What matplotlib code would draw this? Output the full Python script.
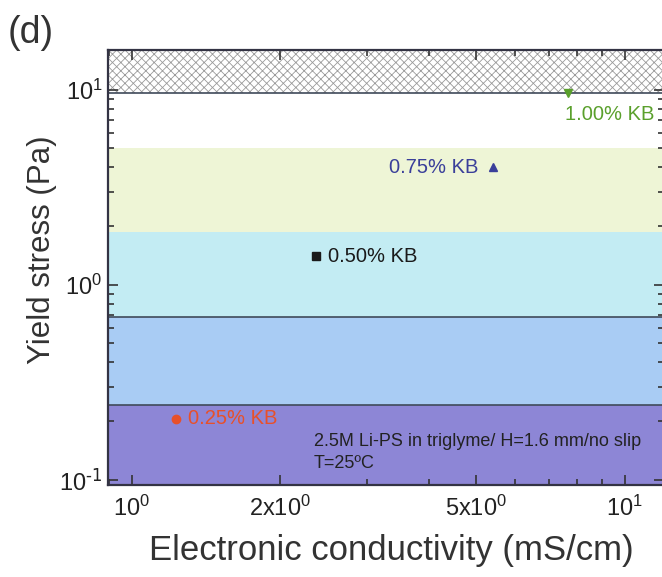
import matplotlib.pyplot as plt
from matplotlib.ticker import FixedLocator, FixedFormatter, LogLocator, NullFormatter

plt.rcParams['font.family'] = ['Liberation Sans', 'DejaVu Sans']
plt.rcParams['mathtext.default'] = 'regular'
plt.rcParams['axes.unicode_minus'] = False
plt.rcParams['hatch.color'] = '#9a9a9a'
plt.rcParams['hatch.linewidth'] = 0.6

# data
conductivity = [1.23, 2.37, 5.40, 7.66]
yield_stress = [0.205, 1.40, 4.0, 9.6]
kb_labels = ['0.25% KB', '0.50% KB', '0.75% KB', '1.00% KB']
kb_colors = ['#e8502a', '#1a1a1a', '#3a3f9a', '#5aa02c']
kb_markers = ['o', 's', '^', 'v']

band_edges = [0.09, 0.243, 0.68, 1.87, 5.0, 9.6]
band_colors = ['#8d86d6', '#a9ccf4', '#c3ecf3', '#eef5d6', '#ffffff']
line_levels = [0.243, 0.68, 9.6]

x_ticks = [1, 2, 5, 10]
x_ticklabels = ['$10^{0}$', '$2x10^{0}$', '$5x10^{0}$', '$10^{1}$']
y_ticks = [0.1, 1, 10]
y_ticklabels = ['$10^{\\text{-1}}$', '$10^{0}$', '$10^{1}$']

fig = plt.figure(figsize=(6.62, 5.77), dpi=100)
ax = fig.add_axes([108 / 662, 1 - 485 / 577, 556 / 662, 435 / 577])

ax.set_xscale('log')
ax.set_yscale('log')
ax.set_xlim(0.896, 12.0)
ax.set_ylim(0.094, 16)

for i in range(len(band_colors)):
    ax.axhspan(band_edges[i], band_edges[i + 1], color=band_colors[i], lw=0, zorder=0)
ax.axhspan(band_edges[-1], 16, facecolor='white', edgecolor='#9a9a9a', hatch='xxxx', lw=0, zorder=0)
for lv in line_levels:
    ax.axhline(lv, color='#404a5a', lw=1.2, zorder=1)

for x, y, c, m in zip(conductivity, yield_stress, kb_colors, kb_markers):
    ax.plot(x, y, marker=m, color=c, ms=6, ls='none', zorder=3)

ax.text(1.30, 0.205, kb_labels[0], color=kb_colors[0], fontsize=14.5, va='center', ha='left')
ax.text(2.50, 1.40, kb_labels[1], color=kb_colors[1], fontsize=14.5, va='center', ha='left')
ax.text(5.05, 4.0, kb_labels[2], color=kb_colors[2], fontsize=14.5, va='center', ha='right')
ax.text(7.55, 7.5, kb_labels[3], color=kb_colors[3], fontsize=14.5, va='center', ha='left')

ax.text(2.34, 0.157, '2.5M Li-PS in triglyme/ H=1.6 mm/no slip', fontsize=13, color='#222222', va='center')
ax.text(2.34, 0.121, 'T=25\u00baC', fontsize=13, color='#222222', va='center')

ax.xaxis.set_major_locator(FixedLocator(x_ticks))
ax.xaxis.set_major_formatter(FixedFormatter(x_ticklabels))
ax.xaxis.set_minor_locator(LogLocator(base=10, subs=[3, 4, 6, 7, 8, 9]))
ax.xaxis.set_minor_formatter(NullFormatter())
ax.yaxis.set_major_locator(FixedLocator(y_ticks))
ax.yaxis.set_major_formatter(FixedFormatter(y_ticklabels))
ax.yaxis.set_minor_formatter(NullFormatter())

ax.tick_params(which='both', direction='in', top=True, right=True, width=1.2, colors='#333333',
               labelcolor='#222222')
ax.tick_params(which='major', length=7, labelsize=17)
ax.tick_params(axis='x', which='major', pad=8)
ax.tick_params(axis='y', which='major', pad=4)
ax.tick_params(which='minor', length=4)
for s in ax.spines.values():
    s.set_linewidth(1.6)
    s.set_color('#333344')

ax.set_xlabel('Electronic conductivity (mS/cm)', fontsize=25, color='#333333')
ax.xaxis.set_label_coords(0.51, -0.112)
ax.set_ylabel('Yield stress (Pa)', fontsize=22.5, color='#333333')
ax.yaxis.set_label_coords(-0.092, 0.54)

fig.text(8 / 662, 1 - 33 / 577, '(d)', fontsize=27, color='#333333', va='center')

fig.savefig('out.png', dpi=100)
